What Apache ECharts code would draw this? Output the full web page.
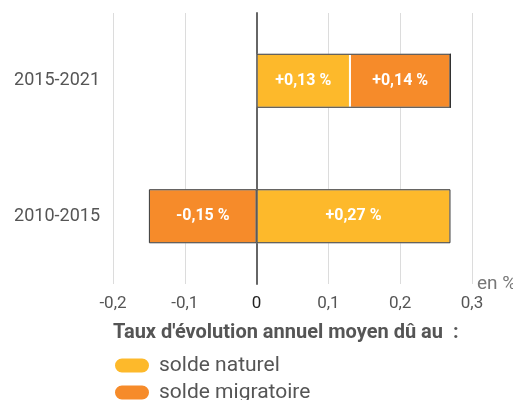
<!DOCTYPE html>
<html>
<head>
<meta charset="utf-8">
<script src="https://cdn.jsdelivr.net/npm/echarts@6/dist/echarts.min.js"></script>
<style>
  html, body { margin: 0; padding: 0; background: #fff; }
  #chart { width: 513px; height: 400px; }
</style>
</head>
<body>
<div id="chart"></div>
<script>
// périodes, de bas en haut
var periodes = ['2010-2015', '2015-2021'];
var soldeNaturel = [0.27, 0.13];
var soldeMigratoire = [-0.15, 0.14];

var jaune = '#fdb92b';
var orange = '#f68b2a';
var pilule = 'path://M8,0 H28 A8,8 0 0 1 28,16 H8 A8,8 0 0 1 8,0 Z';

// contour des barres (somme des positifs / des négatifs)
var totalPos = periodes.map(function (p, i) {
  return Math.max(soldeNaturel[i], 0) + Math.max(soldeMigratoire[i], 0);
});
var totalNeg = periodes.map(function (p, i) {
  return Math.min(soldeNaturel[i], 0) + Math.min(soldeMigratoire[i], 0);
});

function fmt(v) {
  return (v > 0 ? '+' : '') + v.toFixed(2).replace('.', ',') + ' %';
}

var labelStyle = {
  show: true,
  position: 'inside',
  color: '#fff',
  fontWeight: 'bold',
  fontSize: 16,
  fontFamily: 'Roboto',
  formatter: function (p) { return fmt(p.value); }
};

function legende(nom, top) {
  return {
    data: [nom],
    left: 113,
    top: top,
    padding: 0,
    itemWidth: 36,
    itemHeight: 17,
    icon: pilule,
    textStyle: { fontSize: 21, color: '#555', fontFamily: 'Roboto', padding: [0, 0, 0, 4] }
  };
}

var myChart = echarts.init(document.getElementById('chart'));
var option = {
  backgroundColor: '#fff',
  textStyle: { fontFamily: 'Roboto' },
  animation: false,
  title: {
    text: "Taux d'évolution annuel moyen dû au  :",
    left: 113,
    top: 323,
    padding: 0,
    textStyle: { fontSize: 20, fontWeight: 'bold', color: '#555', fontFamily: 'Roboto' }
  },
  legend: [legende('solde naturel', 355), legende('solde migratoire', 382)],
  grid: { left: 113, right: 41, top: 13, height: 271, containLabel: false, outerBoundsMode: 'none' },
  xAxis: {
    type: 'value',
    min: -0.2,
    max: 0.3,
    interval: 0.1,
    name: 'en %',
    nameLocation: 'end',
    nameGap: 5,
    nameTextStyle: { fontSize: 19, color: '#777', align: 'left', verticalAlign: 'middle', padding: [0, 0, 9, 0], fontFamily: 'Roboto' },
    axisLine: { show: false },
    axisTick: { show: false },
    splitLine: { lineStyle: { color: '#dcdcdc', width: 1 } },
    axisLabel: {
      fontSize: 17,
      margin: 11,
      color: function (v) { return Math.abs(v) < 1e-9 ? '#222' : '#555'; },
      formatter: function (v) {
        var r = Math.round(v * 10) / 10;
        return r === 0 ? '0' : String(r).replace('.', ',');
      }
    }
  },
  yAxis: [
    {
      type: 'category',
      data: periodes,
      axisLine: { show: true, onZero: true, lineStyle: { color: '#666', width: 2 } },
      axisTick: { show: false },
      axisLabel: { show: false }
    },
    {
      type: 'category',
      data: periodes,
      position: 'left',
      axisLine: { show: false, onZero: false },
      axisTick: { show: false },
      splitLine: { show: false },
      axisLabel: { fontSize: 18, color: '#555', margin: 13, fontFamily: 'Roboto' }
    }
  ],
  series: [
    {
      name: 'solde naturel',
      type: 'bar',
      stack: 'a',
      barWidth: 54,
      data: soldeNaturel,
      itemStyle: { color: jaune, borderColor: '#fff', borderWidth: 1 },
      label: labelStyle
    },
    {
      name: 'solde migratoire',
      type: 'bar',
      stack: 'a',
      barWidth: 54,
      data: soldeMigratoire,
      itemStyle: { color: orange, borderColor: '#fff', borderWidth: 1 },
      label: labelStyle
    },
    {
      name: 'contourPos',
      type: 'bar',
      stack: 'b',
      barWidth: 54,
      barGap: '-100%',
      data: totalPos,
      silent: true,
      itemStyle: { color: 'rgba(0,0,0,0)', borderColor: '#333', borderWidth: 1 }
    },
    {
      name: 'contourNeg',
      type: 'bar',
      stack: 'b',
      barWidth: 54,
      barGap: '-100%',
      data: totalNeg,
      silent: true,
      itemStyle: { color: 'rgba(0,0,0,0)', borderColor: '#333', borderWidth: 1 }
    }
  ]
};
myChart.setOption(option);
</script>
</body>
</html>
